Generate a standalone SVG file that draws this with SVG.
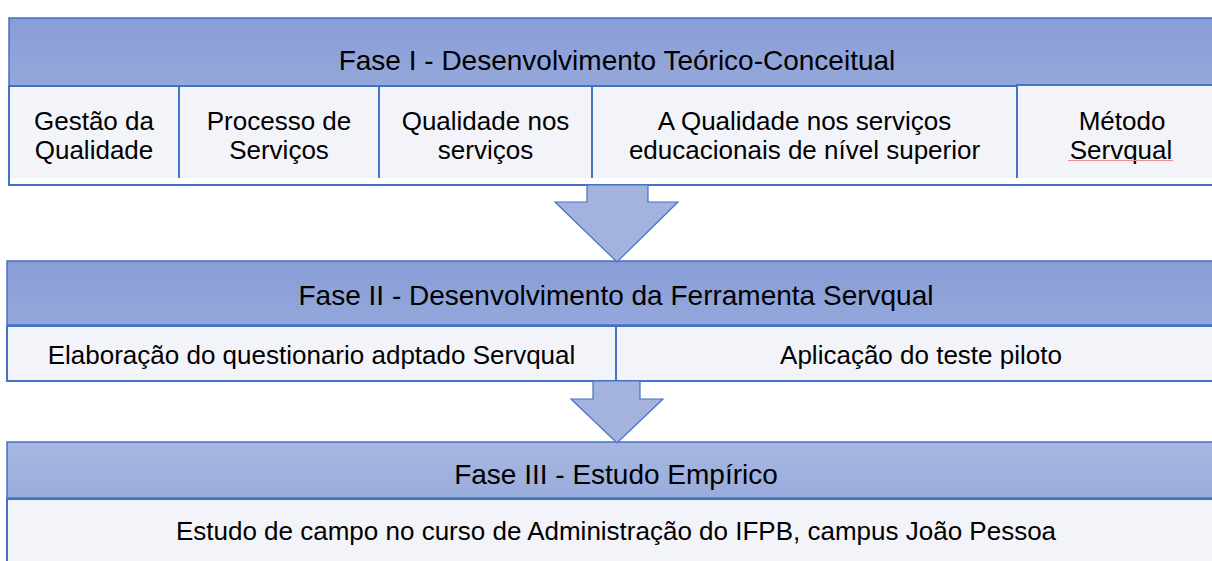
<svg xmlns="http://www.w3.org/2000/svg" width="1212" height="561" viewBox="0 0 1212 561">
<defs>
<linearGradient id="hdr" x1="0" y1="0" x2="0" y2="1"><stop offset="0" stop-color="#889DD7"/><stop offset="1" stop-color="#95A8DB"/></linearGradient>
<linearGradient id="hdr3" x1="0" y1="0" x2="0" y2="1"><stop offset="0" stop-color="#A8B7E1"/><stop offset="1" stop-color="#9AACDC"/></linearGradient>
</defs>
<style>
.h{stroke:#4472C4;stroke-width:1.5}
.b{fill:#F3F4F9;stroke:#4472C4;stroke-width:2}
.t{font-family:"Liberation Sans",Arial,sans-serif;fill:#000;text-anchor:middle}
.ht{font-size:28px}
.st{font-size:26px}
.ar{fill:#A3B3DE;stroke:#4472C4;stroke-width:1.2}
</style>
<rect width="1212" height="561" fill="#fff"/>
<g id="fase1">
<rect class="h" x="9" y="18" width="1230" height="68" fill="url(#hdr)"/>
<text class="t ht" x="617" y="70">Fase I - Desenvolvimento Teórico-Conceitual</text>
<g id="f1-gestao"><rect class="b" x="9" y="86" width="170" height="99"/><text class="t st" x="94" y="130">Gestão da</text><text class="t st" x="94" y="159">Qualidade</text></g>
<g id="f1-processo"><rect class="b" x="179" y="86" width="200" height="99"/><text class="t st" x="279" y="130">Processo de</text><text class="t st" x="279" y="159">Serviços</text></g>
<g id="f1-qualidade"><rect class="b" x="379" y="86" width="213" height="99"/><text class="t st" x="485.5" y="130">Qualidade nos</text><text class="t st" x="485.5" y="159">serviços</text></g>
<g id="f1-educ"><rect class="b" x="592" y="86" width="425" height="99"/><text class="t st" x="804.5" y="130">A Qualidade nos serviços</text><text class="t st" x="804.5" y="159">educacionais de nível superior</text></g>
<g id="f1-metodo"><rect class="b" x="1017" y="85" width="220" height="100"/><text class="t st" x="1122" y="130">Método</text><text class="t st" x="1121" y="159">Servqual</text><line x1="1068" y1="160.5" x2="1173" y2="160.5" stroke="#F08C8C" stroke-width="1"/></g>
<rect x="10" y="178" width="1210" height="6" fill="#fff"/>
</g>
<g id="fase2">
<rect class="h" x="7" y="261" width="1230" height="64" fill="url(#hdr)"/>
<text class="t ht" x="616" y="305">Fase II - Desenvolvimento da Ferramenta Servqual</text>
<g id="f2-elab"><rect class="b" x="7" y="326" width="609" height="55"/><text class="t st" x="311.5" y="364">Elaboração do questionario adptado Servqual</text></g>
<g id="f2-piloto"><rect class="b" x="616" y="326" width="621" height="55"/><text class="t st" x="921" y="364">Aplicação do teste piloto</text></g>
</g>
<g id="fase3">
<rect class="h" x="7" y="442" width="1230" height="56" fill="url(#hdr3)"/>
<text class="t ht" x="616" y="484">Fase III - Estudo Empírico</text>
<g id="f3-campo"><rect class="b" x="7" y="499" width="1230" height="80"/><text class="t st" x="616" y="540">Estudo de campo no curso de Administração do IFPB, campus João Pessoa</text></g>
</g>
<g id="connectors">
<polygon class="ar" points="587,185 648,185 648,202 678,202 617,262 555,202 587,202"/>
<polygon class="ar" points="593,381 640,381 640,399 663,399 617,443 571,399 593,399"/>
</g>
</svg>
